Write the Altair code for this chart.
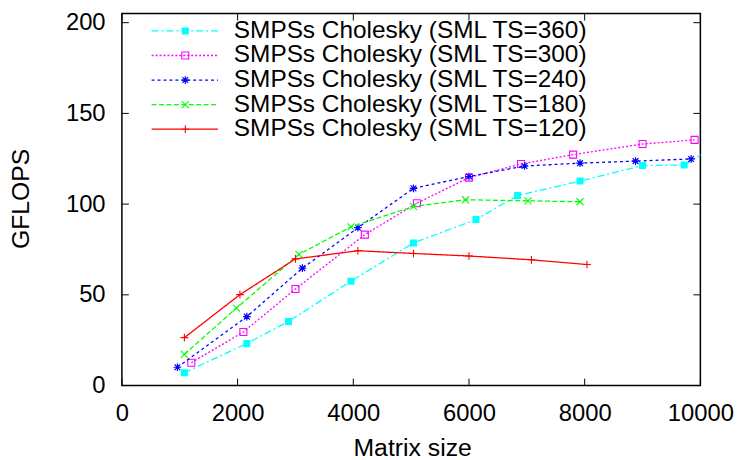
import altair as alt
import pandas as pd

# ---- data ----
labels = [
    "SMPSs Cholesky (SML TS=360)",
    "SMPSs Cholesky (SML TS=300)",
    "SMPSs Cholesky (SML TS=240)",
    "SMPSs Cholesky (SML TS=180)",
    "SMPSs Cholesky (SML TS=120)",
]
sizes_360 = [1080, 2160, 2880, 3960, 5040, 6120, 6840, 7920, 9000, 9720, 10800]
gflops_360 = [7.05, 23.2, 35.3, 57.5, 78.6, 91.5, 104.7, 112.7, 121.3, 121.5, 143]
sizes_300 = [1200, 2100, 3000, 4200, 5100, 6000, 6900, 7800, 9000, 9900]
gflops_300 = [12.6, 29.5, 53.2, 83.2, 100.5, 114.6, 122.1, 127.3, 133.1, 135.4]
sizes_240 = [960, 2160, 3120, 4080, 5040, 6000, 6960, 7920, 8880, 9840]
gflops_240 = [10.1, 38.0, 64.7, 87.0, 108.7, 115.2, 121.0, 122.6, 123.7, 124.9]
sizes_180 = [1080, 1980, 3060, 3960, 5040, 5940, 7020, 7920]
gflops_180 = [17.2, 42.7, 72.3, 87.5, 98.7, 102.4, 101.8, 101.3]
sizes_120 = [1080, 2040, 3000, 4080, 5040, 6000, 7080, 8040]
gflops_120 = [26.4, 50.1, 69.8, 74.3, 72.8, 71.4, 69.3, 66.7]

x_ticks = [0, 2000, 4000, 6000, 8000, 10000]
y_ticks = [0, 50, 100, 150, 200]

series_x = [sizes_360, sizes_300, sizes_240, sizes_180, sizes_120]
series_y = [gflops_360, gflops_300, gflops_240, gflops_180, gflops_120]

# ---- styles ----
FONT = "Liberation Sans"
W, H = 584, 375.5
colors = ["#00ffff", "#ff00ff", "#0000ff", "#00ff00", "#ff0000"]
dashes = [[7, 3, 2, 3], [2, 2], [3, 3], [5, 2.5], [1, 0]]
STAR = "M-1,0L1,0M0,-1L0,1M-0.75,-0.75L0.75,0.75M-0.75,0.75L0.75,-0.75"
XMARK = "M-1,-1L1,1M-1,1L1,-1"
PLUS = "M-1,0L1,0M0,-1L0,1"
markers = [
    dict(shape="square", filled=True, size=50),
    dict(shape="square", filled=False, size=50, strokeWidth=1.1),
    dict(shape=STAR, filled=False, size=60, strokeWidth=1.2),
    dict(shape=XMARK, filled=False, size=50, strokeWidth=1.1),
    dict(shape=PLUS, filled=False, size=60, strokeWidth=1.1),
]

xscale = alt.Scale(domain=[0, 10000], nice=False, zero=False)
yscale = alt.Scale(domain=[0, 205], nice=False, zero=False)
xaxis = alt.Axis(
    values=x_ticks, format="d", title="Matrix size", labelBaseline="alphabetic",
    labelPadding=35, labelFlush=False, labelOverlap=False, labelBound=False,
    titleX=293, titleY=71, titleBaseline="alphabetic", titleAlign="center",
)
yaxis = alt.Axis(
    values=y_ticks, format="d", title="GFLOPS", labelPadding=17, labelFlush=False,
    labelOverlap=False, titleX=-94, titleY=186.5, titleAngle=270,
    titleAlign="center", titleBaseline="alphabetic",
)

def X(field="x"):
    return alt.X(f"{field}:Q", scale=xscale, axis=xaxis)

def Y(field="y"):
    return alt.Y(f"{field}:Q", scale=yscale, axis=yaxis)

layers = []
for i in range(5):
    df = pd.DataFrame({"x": series_x[i], "y": series_y[i]})
    base = alt.Chart(df)
    layers.append(
        base.mark_line(color=colors[i], strokeDash=dashes[i], strokeWidth=1.3, clip=True)
        .encode(x=X(), y=Y())
    )
    layers.append(
        base.mark_point(color=colors[i], opacity=1, clip=True, **markers[i])
        .encode(x=X(), y=Y())
    )

# inward tick marks on all four sides
TL = 7
xt = alt.Chart(pd.DataFrame({"x": x_ticks}))
yt = alt.Chart(pd.DataFrame({"y": y_ticks}))
layers.append(xt.mark_rule(color="black", strokeWidth=1).encode(x=X(), y=alt.value(H), y2=alt.value(H - TL)))
layers.append(xt.mark_rule(color="black", strokeWidth=1).encode(x=X(), y=alt.value(0), y2=alt.value(TL)))
layers.append(yt.mark_rule(color="black", strokeWidth=1).encode(y=Y(), x=alt.value(0), x2=alt.value(TL)))
layers.append(yt.mark_rule(color="black", strokeWidth=1).encode(y=Y(), x=alt.value(W), x2=alt.value(W - TL)))

# legend (key) inside the plot, top-left
for i in range(5):
    ly = 17.5 + 24.8 * i
    one = alt.Chart(pd.DataFrame({"label": [labels[i]]}))
    layers.append(
        one.mark_rule(color=colors[i], strokeDash=dashes[i], strokeWidth=1.3)
        .encode(x=alt.value(30), x2=alt.value(97), y=alt.value(ly))
    )
    layers.append(
        one.mark_point(color=colors[i], opacity=1, **markers[i])
        .encode(x=alt.value(64), y=alt.value(ly))
    )
    layers.append(
        one.mark_text(align="left", baseline="middle", font=FONT, fontSize=24.6, color="black")
        .encode(x=alt.value(113), y=alt.value(ly), text="label:N")
    )

chart = (
    alt.layer(*layers)
    .properties(
        width=W, height=H, autosize="none",
        padding={"left": 115, "top": 3.5, "right": 40, "bottom": 73},
        background="white",
    )
    .configure_view(stroke="black", strokeWidth=1.5)
    .configure_axis(
        domain=False, ticks=False, grid=False, tickSize=0,
        labelFont=FONT, labelFontSize=24, labelColor="black",
        titleFont=FONT, titleFontSize=25, titleFontWeight="normal", titleColor="black",
    )
)

chart.save("out.html", embed_options={"renderer": "svg", "actions": False})
